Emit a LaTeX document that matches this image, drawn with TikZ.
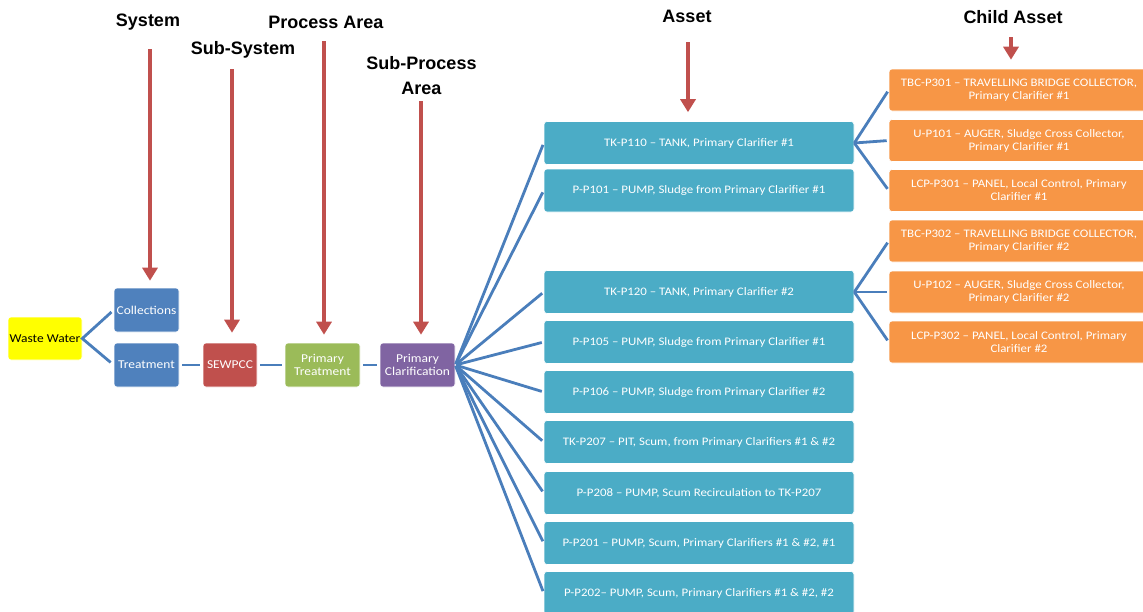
\documentclass[tikz,border=0pt]{standalone}
\usepackage{fontspec}
\setmainfont{Carlito}
\newfontfamily\boxfont[FakeStretch=1.12]{Carlito}
\newfontfamily\headfont{Liberation Sans}
\usetikzlibrary{arrows.meta,calc}

\definecolor{wwyellow}{HTML}{FFFF00}
\definecolor{sysblue}{HTML}{4F81BD}
\definecolor{plantred}{HTML}{C0504D}
\definecolor{areagreen}{HTML}{9BBB59}
\definecolor{subpurple}{HTML}{8064A2}
\definecolor{assetteal}{HTML}{4BACC6}
\definecolor{childorange}{HTML}{F79646}
\definecolor{linkblue}{HTML}{4A7EBB}
\definecolor{ptrred}{HTML}{C0504D}

\begin{document}
\begin{tikzpicture}[x=1pt,y=-1pt,
    box/.style={rounded corners=3pt, draw=white, line width=0.6pt, text=white, align=center,
      inner sep=0pt, minimum height=43pt, font=\boxfont\fontsize{12}{13}\selectfont},
    asset/.style={box, fill=assetteal, minimum width=310pt, font=\boxfont\fontsize{11.5}{13}\selectfont},
    child/.style={box, fill=childorange, minimum width=260pt, minimum height=42pt, font=\boxfont\fontsize{11.5}{13}\selectfont},
    link/.style={draw=linkblue, line width=2.8pt},
    pointer/.style={draw=ptrred, line width=4.5pt, -{Triangle[width=15pt,length=13pt]}},
    header/.style={font=\headfont\bfseries\fontsize{18}{25}\selectfont, align=center}]
  \useasboundingbox (0,0) rectangle (1143,611);

  \node[box, fill=wwyellow, text=black, minimum width=74pt] (ww) at (45,338.5) {Waste Water};
  \node[box, fill=sysblue, minimum width=65pt, minimum height=44pt] (coll) at (146.5,310) {Collections};
  \node[box, fill=sysblue, minimum width=65pt, minimum height=44pt] (treat) at (146.5,365) {Treatment};
  \node[box, fill=plantred, minimum width=54pt, minimum height=44pt] (sewpcc) at (230,365) {SEWPCC};
  \node[box, fill=areagreen, minimum width=75pt, minimum height=44pt] (ptreat) at (322.5,365) {Primary\\Treatment};
  \node[box, fill=subpurple, minimum width=75pt, minimum height=44pt] (pclar) at (417.5,365) {Primary\\Clarification};

  \node[asset] (tk110) at (699,143) {TK-P110 – TANK, Primary Clarifier \#1};
  \node[asset] (p101) at (699,190.5) {P-P101 – PUMP, Sludge from Primary Clarifier \#1};
  \node[asset] (tk120) at (699,292) {TK-P120 – TANK, Primary Clarifier \#2};
  \node[asset] (p105) at (699,342) {P-P105 – PUMP, Sludge from Primary Clarifier \#1};
  \node[asset] (p106) at (699,392) {P-P106 – PUMP, Sludge from Primary Clarifier \#2};
  \node[asset] (tk207) at (699,442) {TK-P207 – PIT, Scum, from Primary Clarifiers \#1 \& \#2};
  \node[asset] (p208) at (699,493) {P-P208 – PUMP, Scum Recirculation to TK-P207};
  \node[asset] (p201) at (699,543) {P-P201 – PUMP, Scum, Primary Clarifiers \#1 \& \#2, \#1};
  \node[asset] (p202) at (699,593) {P-P202– PUMP, Scum, Primary Clarifiers \#1 \& \#2, \#2};

  \node[child] (tbc301) at (1019,90) {TBC-P301 – TRAVELLING BRIDGE COLLECTOR,\\Primary Clarifier \#1};
  \node[child] (u101) at (1019,140.5) {U-P101 – AUGER, Sludge Cross Collector,\\Primary Clarifier \#1};
  \node[child] (lcp301) at (1019,190.5) {LCP-P301 – PANEL, Local Control, Primary\\Clarifier \#1};
  \node[child] (tbc302) at (1019,241) {TBC-P302 – TRAVELLING BRIDGE COLLECTOR,\\Primary Clarifier \#2};
  \node[child] (u102) at (1019,292) {U-P102 – AUGER, Sludge Cross Collector,\\Primary Clarifier \#2};
  \node[child] (lcp302) at (1019,342) {LCP-P302 – PANEL, Local Control, Primary\\Clarifier \#2};

  \draw[link, shorten <=3pt, shorten >=4pt] (coll.west) -- (ww.east) -- (treat.west);
  \draw[link, shorten <=3pt, shorten >=3pt] (treat) -- (sewpcc);
  \draw[link, shorten <=3pt, shorten >=3pt] (sewpcc) -- (ptreat);
  \draw[link, shorten <=3pt, shorten >=3pt] (ptreat) -- (pclar);
  \foreach \a in {tk110,p101,tk120,p105,p106,tk207,p208,p201,p202}
    \draw[link, shorten <=1pt, shorten >=2pt] (pclar.east) -- (\a.west);
  \foreach \c in {tbc301,u101,lcp301}
    \draw[link, shorten >=2pt] (tk110.east) -- (\c.west);
  \foreach \c in {tbc302,u102,lcp302}
    \draw[link, shorten >=2pt] (tk120.east) -- (\c.west);

  \node[header] (hsys) at (148,22) {System};
  \node[header] (hsub) at (243,50) {Sub-System};
  \node[header] (hproc) at (326,22) {Process Area};
  \node[header] (hsubproc) at (421.5,75.5) {Sub-Process\\Area};
  \node[header] (hasset) at (687,16) {Asset};
  \node[header] (hchild) at (1013,17) {Child Asset};

  \coordinate (sysTop) at (150,49);
  \coordinate (subTop) at (232,69);
  \coordinate (procTop) at (324,41);
  \coordinate (subprocTop) at (421,101);
  \coordinate (assetTop) at (688,42);
  \coordinate (childTop) at (1011,37);
  \draw[pointer] (sysTop) -- ($(sysTop |- coll.north)+(0,-7)$);
  \draw[pointer] (subTop) -- ($(subTop |- sewpcc.north)+(0,-10)$);
  \draw[pointer] (procTop) -- ($(procTop |- ptreat.north)+(0,-8)$);
  \draw[pointer] (subprocTop) -- ($(subprocTop |- pclar.north)+(0,-8)$);
  \draw[pointer] (assetTop) -- ($(assetTop |- tk110.north)+(0,-9)$);
  \draw[pointer] (childTop) -- ($(childTop |- tbc301.north)+(0,-9)$);
\end{tikzpicture}
\end{document}
